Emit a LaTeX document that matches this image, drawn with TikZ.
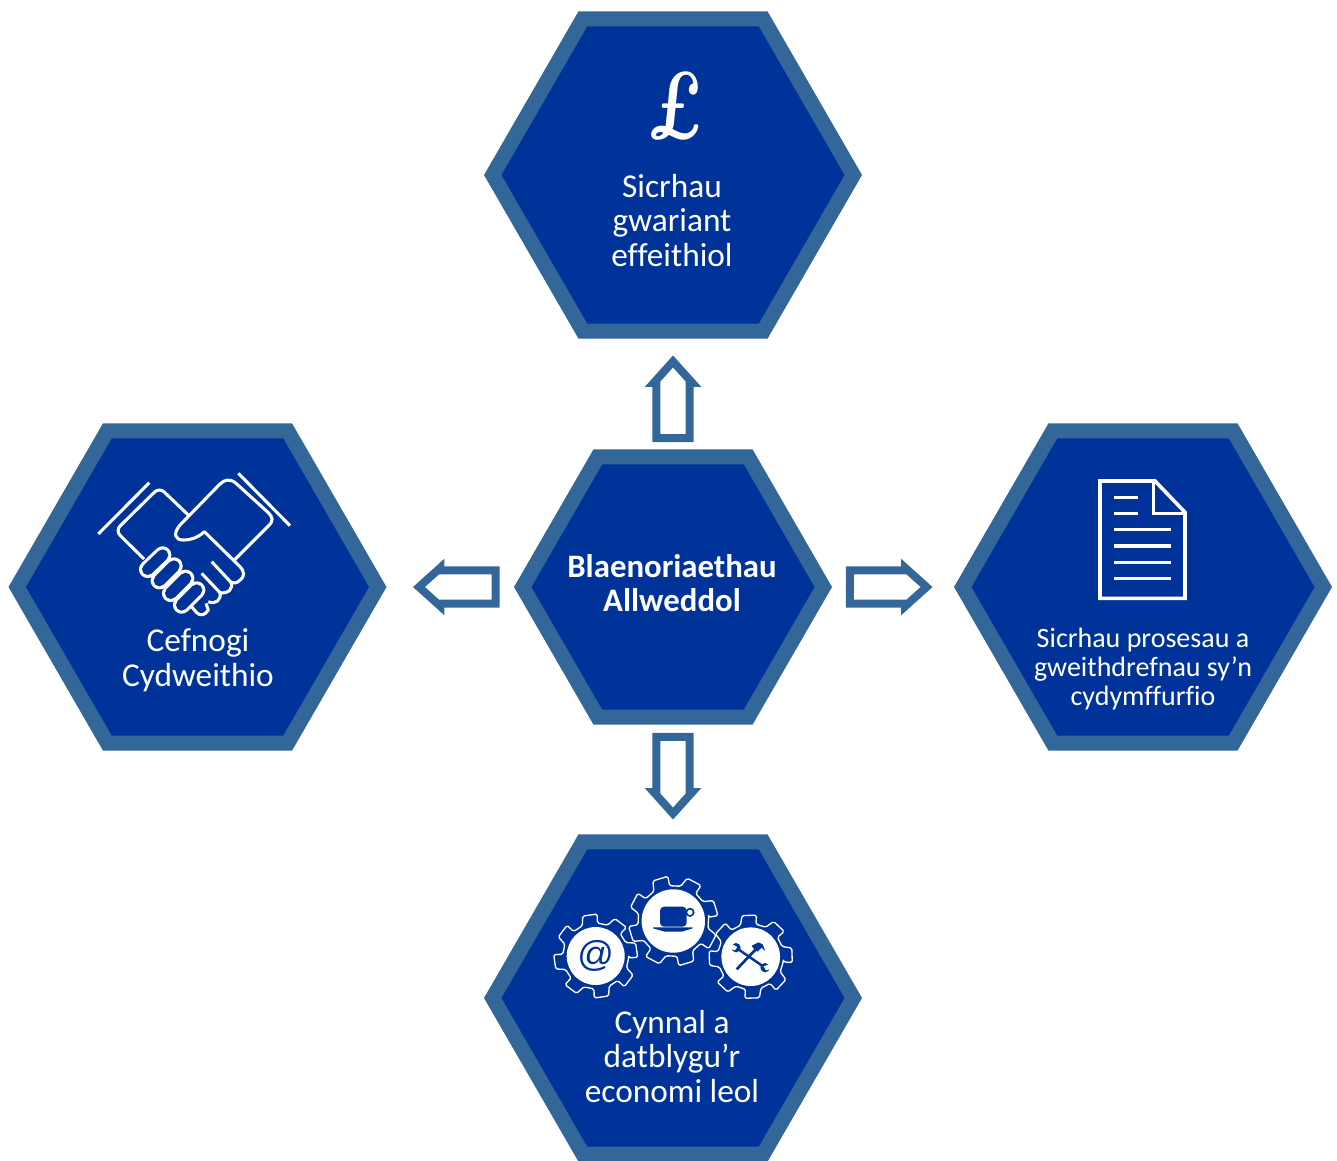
\documentclass[tikz,border=0pt]{standalone}
\usepackage{fontspec}
\newfontfamily\bodyfont[Ligatures=NoCommon]{Carlito}
\newfontfamily\atfont{Liberation Sans}
\usetikzlibrary{shapes.geometric,shapes.arrows}
\definecolor{hexblue}{RGB}{0,51,153}
\definecolor{hexedge}{RGB}{51,102,153}
\tikzset{
  hexbig/.style={shape=regular polygon,regular polygon sides=6,draw=hexedge,fill=hexblue,line width=11.25pt,minimum size=270.5pt,inner sep=0pt,outer sep=0pt},
  hexmid/.style={hexbig,minimum size=225.5pt},
  blockarrow/.style={shape=single arrow,draw=hexedge,fill=white,line width=6pt,minimum height=57.5pt,minimum width=29pt,single arrow head extend=0.5pt,single arrow tip angle=84,inner sep=0pt,outer sep=0pt},
  hextext/.style={text=white,align=center,font=\bodyfont\fontsize{25}{26}\selectfont,inner sep=0pt},
  smalltext/.style={text=white,align=center,font=\bodyfont\fontsize{21}{21.8}\selectfont,inner sep=0pt},
  boldtext/.style={text=white,align=center,font=\bodyfont\bfseries\fontsize{24.6}{26}\selectfont,inner sep=0pt},
  ic/.style={draw=white,line width=2.3pt,line join=round},
  sausage/.style={line cap=round,draw=white,line width=2.3pt,double=hexblue,double distance=8.5pt},
}
\newcommand{\gearicon}[6]{% cx cy R r disc rot
  \draw[white,line width=1pt,fill=hexblue,rounded corners=1.2pt,line join=round]
    ({#1+#4*cos(#6-11)},{#2-#4*sin(#6-11)})
    \foreach \k in {0,...,7}{
      -- ({#1+#3*cos(#6+45*\k-10)},{#2-#3*sin(#6+45*\k-10)})
      -- ({#1+#3*cos(#6+45*\k+10)},{#2-#3*sin(#6+45*\k+10)})
      -- ({#1+#4*cos(#6+45*\k+16)},{#2-#4*sin(#6+45*\k+16)})
      -- ({#1+#4*cos(#6+45*\k+34)},{#2-#4*sin(#6+45*\k+34)})
    } -- cycle;
  \fill[white] (#1,#2) circle[radius=#5*0.75pt];
}
\begin{document}
\begin{tikzpicture}[x=0.75pt,y=-0.75pt]
\useasboundingbox (0,0) rectangle (1337,1160);
% hexagons
\node[hexbig] (top) at (673,175) {};
\node[hexbig] (left) at (197.5,587) {};
\node[hexbig] (right) at (1143,587) {};
\node[hexbig] (bottom) at (673,998) {};
\node[hexmid] (centre) at (673,587) {};
% arrows
\node[blockarrow,rotate=90] (aup) at (673,409) {};
\node[blockarrow,rotate=-90] (adown) at (673,766) {};
\node[blockarrow,rotate=180] (aleft) at (466.5,587) {};
\node[blockarrow] (aright) at (879,587) {};
% text
\node[boldtext] (tc) at (672,583) {Blaenoriaethau\\Allweddol};
\node[hextext] (tt) at (672,220.5) {Sicrhau\\gwariant\\effeithiol};
\node[hextext] (tl) at (198,660) {Cefnogi\\Cydweithio};
\node[hextext] (tb) at (672,1056.5) {Cynnal a\\datblygu’r\\economi leol};
\node[smalltext] (tr) at (1143,669) {Sicrhau prosesau a\\gweithdrefnau sy’n\\cydymffurfio};
% pound
\node[text=white,font=\fontsize{72}{72}\selectfont\bfseries\itshape,inner sep=0pt,transform shape,xscale=0.78,xslant=-0.12] (pound) at (674,106) {£};
% document
\begin{scope}[shift={(1080,465)},x=0.25pt,y=-0.25pt]
  \draw[white,line width=2.7pt,miter limit=4] (60,48)--(225,48)--(315,142)--(315,400)--(60,400)--cycle;
  \draw[white,line width=2.7pt] (220,48)--(220,145)--(315,145);
  \foreach \yy/\xe in {97/175,145/175,194/273,243/273,292/273,340/273}
    \draw[white,line width=2.5pt] (103,\yy)--(\xe,\yy);
\end{scope}
% handshake
\begin{scope}[shift={(80,460)},x=0.25pt,y=-0.25pt]
  \draw[ic] (55,222)--(208,68);
  \draw[ic] (475,40)--(630,197);
  \draw[ic,rounded corners=5pt] (192,297)--(106,212)--(238,82)--(327,167);
  \draw[ic] (465,298) -- (565,198) .. controls (582,182) and (578,172) .. (565,158) -- (468,70) .. controls (450,55) and (435,58) .. (420,72) -- (300,195) .. controls (278,222) and (285,240) .. (310,240) .. controls (335,240) and (355,232) .. (373,215) -- (478,318) .. controls (495,335) and (495,350) .. (478,362) .. controls (470,370) and (462,370) .. (452,366) -- (395,305);
  \draw[ic] (452,366) .. controls (462,385) and (445,402) .. (420,398) -- (365,340);
  \draw[ic] (420,398) .. controls (425,420) and (405,435) .. (385,425);
  \draw[ic,fill=hexblue] (335,440)--(350,458) .. controls (362,470) and (375,465) .. (385,450) -- (378,430);
  \draw[sausage] (350,390)--(305,435);
  \draw[sausage] (317,355)--(272,400);
  \draw[sausage] (282,318)--(238,362);
  \draw[sausage] (248,285)--(203,328);
\end{scope}
% gears
\gearicon{595.7}{956}{42}{33}{29}{8}
\gearicon{673.3}{921}{45}{35.5}{31.7}{17}
\gearicon{750.7}{956.7}{42}{33}{29.3}{2}
% at sign
\node[text=hexblue,font=\atfont\fontsize{27}{27}\selectfont,inner sep=0pt] (atsign) at (595.7,956) {@};
% cup
\begin{scope}[shift={(540,865)},x=0.25pt,y=-0.25pt]
  \fill[hexblue,rounded corners=3pt] (360,125)--(440,125)--(440,185)--(360,185)--cycle;
  \draw[hexblue,line width=1.2pt] (450,142) circle[radius=11];
  \fill[hexblue] (339,187)--(458,187)--(458,190)--(425,200)--(375,200)--(339,190)--cycle;
\end{scope}
% tools
\begin{scope}[shift={(720,925)},x=0.25pt,y=-0.25pt]
  \draw[hexblue,line width=1.8pt] (48,68)--(135,128);
  \fill[hexblue] (48,68) circle[radius=14];
  \fill[white] (30,54)--(52,66)--(44,76)--(28,70)--cycle;
  \fill[hexblue] (135,128) circle[radius=14];
  \fill[white] (153,116)--(131,124)--(138,136)--(155,130)--cycle;
  \draw[hexblue,line width=2pt] (50,133)--(112,68);
  \fill[hexblue] (95,62)--(115,52)--(128,58)--(136,78)--(125,68)--(112,80)--(100,70)--cycle;
\end{scope}
\end{tikzpicture}
\end{document}
